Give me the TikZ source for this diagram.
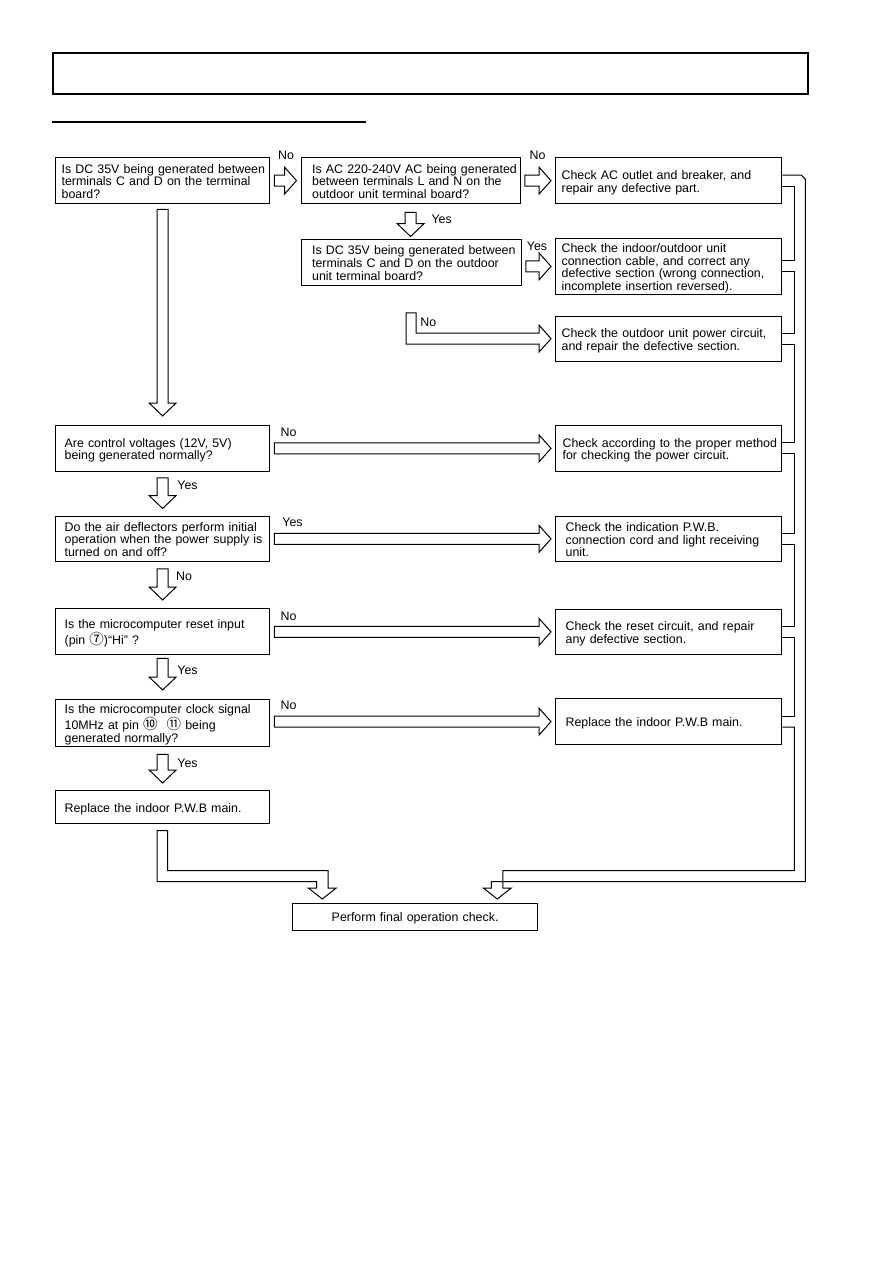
\documentclass[tikz,border=0pt]{standalone}
\usepackage{fontspec}
\setmainfont{Liberation Sans}
\newfontfamily\cjk{Noto Sans CJK SC}
\usetikzlibrary{calc}
\newcommand\tl[1]{\raisebox{-2.5pt}[\height][\depth]{\begin{tabular}{@{}l@{}}#1\end{tabular}}}
\newcommand\cn[1]{{\cjk\fontsize{14.5}{12.3}\selectfont #1}}
\newcommand\harr[2]{\draw[fat] let \p1=(#1.east), \p2=(#2.west) in
 ({\x1+4pt},{\y2+5.5pt}) -- ({\x2-16pt},{\y2+5.5pt}) -- ({\x2-16pt},{\y2+13.5pt}) -- ({\x2-4pt},\y2) -- ({\x2-16pt},{\y2-13.5pt}) -- ({\x2-16pt},{\y2-5.5pt}) -- ({\x1+4pt},{\y2-5.5pt}) -- cycle;}
\newcommand\varr[4]{\draw[fat] let \p1=(#1.south), \p2=(#2.north) in
 ({\x1-5.5pt},{\y1-#3}) -- ({\x1-5.5pt},{\y2+#4+13pt}) -- ({\x1-13.5pt},{\y2+#4+13pt}) -- (\x1,{\y2+#4}) -- ({\x1+13.5pt},{\y2+#4+13pt}) -- ({\x1+5.5pt},{\y2+#4+13pt}) -- ({\x1+5.5pt},{\y1-#3}) -- cycle;}
\newcommand\seg[2]{\draw[fat, fill=none] let \p1=(#1.east), \p2=(#2.east) in
 (\x1,{\y1-5.5pt}) -- ({\x1+12pt},{\y1-5.5pt}) -- ({\x1+12pt},{\y2+5.5pt}) -- (\x2,{\y2+5.5pt});}
\begin{document}
\begin{tikzpicture}[x=1pt,y=-1pt,
 box/.style={draw, line width=1.25pt, anchor=north west, inner ysep=0pt, align=left, font=\fontsize{12.4}{12.3}\selectfont},
 fat/.style={draw, line width=1pt, fill=white, line join=miter},
 lbl/.style={font=\fontsize{12.4}{12.3}\selectfont, inner sep=0pt, text height=8.9pt, text depth=0pt}]
\useasboundingbox[fill=white] (0,0) rectangle (893,1263);
% header
\node[draw, line width=2.2pt, anchor=north west, minimum width=755pt, minimum height=41pt, inner sep=0pt] (hdr) at (52,52) {};
\coordinate (ul1) at (52,122);
\coordinate (ul2) at (366,122);
\draw[line width=1.4pt] (ul1) -- (ul2);
% question column
\node[box, inner xsep=6pt, text width=202pt, minimum height=46pt] (q1) at (55,157) {\tl{Is DC 35V being generated between\\terminals C and D on the terminal\\board?}};
\node[box, inner xsep=11pt, text width=197pt, minimum height=46pt] (q2) at (300.5,157) {\tl{Is AC 220-240V AC being generated\\between terminals L and N on the\\outdoor unit terminal board?}};
\node[box, inner xsep=11pt, text width=198pt, minimum height=46.5pt] (q3) at (300.5,238.5) {\tl{Is DC 35V being generated between\\terminals C and D on the outdoor\\unit terminal board?}};
\node[box, inner xsep=9pt, text width=196pt, minimum height=45.5pt] (q4) at (55,425) {\tl{Are control voltages (12V, 5V)\\being generated normally?}};
\node[box, inner xsep=9pt, text width=196pt, minimum height=45pt] (q5) at (55,515.5) {\tl{Do the air deflectors perform initial\\operation when the power supply is\\turned on and off?}};
\node[box, inner xsep=9pt, text width=196pt, minimum height=46pt] (q6) at (55,608) {\tl{Is the microcomputer reset input\\(pin \cn{⑦})“Hi” ?}};
\node[box, inner xsep=9pt, text width=196pt, minimum height=47pt] (q7) at (55,699) {\tl{Is the microcomputer clock signal\\10MHz at pin \cn{⑩}\hspace{9pt}\cn{⑪} being\\generated normally?}};
\node[box, inner xsep=9pt, text width=196pt, minimum height=33pt] (q8) at (55,790) {\tl{Replace the indoor P.W.B main.}};
% result column
\node[box, inner xsep=6pt, text width=214pt, minimum height=46pt] (r1) at (555,157) {\tl{Check AC outlet and breaker, and\\repair any defective part.}};
\node[box, inner xsep=6pt, text width=214pt, minimum height=56.5pt] (r2) at (555,237.5) {\tl{Check the indoor/outdoor unit\\connection cable, and correct any\\defective section (wrong connection,\\incomplete insertion reversed).}};
\node[box, inner xsep=6pt, text width=214pt, minimum height=45pt] (r3) at (555,315.5) {\tl{Check the outdoor unit power circuit,\\and repair the defective section.}};
\node[box, inner xsep=7pt, text width=212pt, minimum height=45.5pt] (r4) at (555,425) {\tl{Check according to the proper method\\for checking the power circuit.}};
\node[box, inner xsep=10pt, text width=206pt, minimum height=45.5pt] (r5) at (555,515.5) {\tl{Check the indication P.W.B.\\connection cord and light receiving\\unit.}};
\node[box, inner xsep=10pt, text width=206pt, minimum height=45.5pt] (r6) at (555,608.5) {\tl{Check the reset circuit, and repair\\any defective section.}};
\node[box, inner xsep=10pt, text width=206pt, minimum height=46pt] (r7) at (555,698) {\tl{Replace the indoor P.W.B main.}};
\node[box, align=center, inner xsep=5pt, text width=235pt, minimum height=27pt] (fin) at (292,903) {\raisebox{-1.5pt}[\height][\depth]{Perform final operation check.}};
% arrows
\harr{q1}{q2}
\harr{q2}{r1}
\harr{q3}{r2}
\harr{q4}{r4}
\harr{q5}{r5}
\harr{q6}{r6}
\harr{q7}{r7}
\varr{q2}{q3}{8pt}{2pt}
\varr{q1}{q4}{5pt}{9pt}
\varr{q4}{q5}{6pt}{7pt}
\varr{q5}{q6}{7pt}{8pt}
\varr{q6}{q7}{3pt}{9pt}
\varr{q7}{q8}{7pt}{7pt}
% bent No arrow to r3
\draw[fat] let \p1=(q3.south), \p2=(r3.west) in
 ({\x1-5pt},{\y1-26.7pt}) -- ({\x1-5pt},{\y2-5.5pt}) -- ({\x2-16pt},{\y2-5.5pt}) -- ({\x2-16pt},{\y2-13.5pt}) -- ({\x2-4pt},\y2) -- ({\x2-16pt},{\y2+13.5pt}) -- ({\x2-16pt},{\y2+5.5pt}) -- ({\x1+5pt},{\y2+5.5pt}) -- ({\x1+5pt},{\y1-26.7pt}) -- cycle;
% bottom left bent arrow
\draw[fat] let \p1=(q8.south), \p2=(fin.north west) in
 ({\x1-5.5pt},{\y1-6.3pt}) -- ({\x1-5.5pt},{\y2+21.3pt}) -- ({\x2+24.7pt},{\y2+21.3pt}) -- ({\x2+24.7pt},{\y2+15pt}) -- ({\x2+16.3pt},{\y2+15pt}) -- ({\x2+30.3pt},{\y2+4pt}) -- ({\x2+44.3pt},{\y2+15pt}) -- ({\x2+36pt},{\y2+15pt}) -- ({\x2+36pt},{\y2+32.3pt}) -- ({\x1+5pt},{\y2+32.3pt}) -- ({\x1+5pt},{\y1-6.3pt}) -- cycle;
% right collecting channel
\draw[fat, fill=none] let \p1=(r1.east), \p2=(fin.north east), \p3=(r7.east) in
 (\x1,{\y1+5.5pt}) -- ({\x1+19pt},{\y1+5.5pt}) -- ({\x1+23pt},{\y1+1.5pt}) -- ({\x1+23pt},{\y2+21.3pt}) -- ({\x2-47pt},{\y2+21.3pt}) -- ({\x2-47pt},{\y2+15pt}) -- ({\x2-55pt},{\y2+15pt}) -- ({\x2-41pt},{\y2+4pt}) -- ({\x2-27pt},{\y2+15pt}) -- ({\x2-35.3pt},{\y2+15pt}) -- ({\x2-35.3pt},{\y2+32.3pt}) -- ({\x1+12pt},{\y2+32.3pt}) -- ({\x1+12pt},{\y3-5.5pt}) -- (\x3,{\y3-5.5pt});
\seg{r1}{r2}
\seg{r2}{r3}
\seg{r3}{r4}
\seg{r4}{r5}
\seg{r5}{r6}
\seg{r6}{r7}
% labels
\node[lbl] (l1) at (286,155) {No};
\node[lbl] (l2) at (537.5,155) {No};
\node[lbl] (l3) at (441.7,219.3) {Yes};
\node[lbl] (l4) at (537,246) {Yes};
\node[lbl] (l5) at (428.3,322.3) {No};
\node[lbl] (l6) at (288.5,431.7) {No};
\node[lbl] (l7) at (187.5,485) {Yes};
\node[lbl] (l8) at (292.5,522.3) {Yes};
\node[lbl] (l9) at (184,576) {No};
\node[lbl] (l10) at (288.5,615.7) {No};
\node[lbl] (l11) at (187.5,670) {Yes};
\node[lbl] (l12) at (288.5,705) {No};
\node[lbl] (l13) at (187.5,762.7) {Yes};
\end{tikzpicture}
\end{document}
